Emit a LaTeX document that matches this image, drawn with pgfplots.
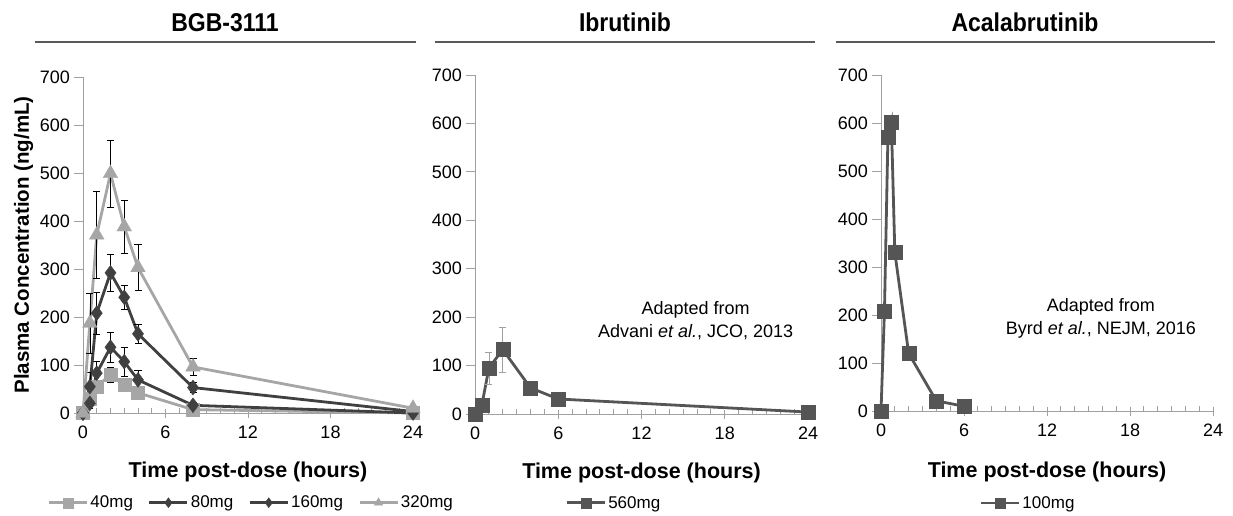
\documentclass[border=0pt]{standalone}
\usepackage{fontspec}
\setmainfont{Liberation Sans}
\usepackage{pgfplots}
\pgfplotsset{compat=1.18}
\definecolor{lg}{HTML}{A6A6A6}
\definecolor{dg}{HTML}{404040}
\definecolor{mg}{HTML}{555555}
\definecolor{axg}{HTML}{A0A0A0}
\pgfplotsset{
  pk/.style={
    scale only axis,
    xmin=0, xmax=24, ymin=0, ymax=700,
    axis lines=left,
    axis line style={-, axg, line width=0.9pt},
    xtick={0,6,12,18,24}, ytick={0,100,...,700},
    minor x tick num=5,
    tick align=center,
    major tick length=9pt,
    minor tick length=5pt,
    minor tick style={yshift=2.5pt},
    ytick style={xshift=-4.5pt},
    tick style={axg, line width=0.8pt},
    clip=false,
    tick label style={font=\fontsize{18}{21}\selectfont},
    /pgf/number format/assume math mode=true,
    xticklabel style={yshift=-5pt},
    yticklabel style={xshift=-5pt},
    xlabel={\bfseries Time post-dose (hours)},
    xlabel style={font=\fontsize{21.5}{24}\selectfont, anchor=base},
    legend style={draw=none, fill=none, font=\fontsize{17}{20}\selectfont, legend columns=-1,
      /tikz/every even column/.append style={column sep=13pt}, anchor=center},
    legend image code/.code={\draw[mark repeat=2,mark phase=2,##1] plot coordinates {(0pt,0pt) (19pt,0pt) (38pt,0pt)};},
    legend image post style={mark size=5pt},
  },
  ebar/.style={error bars/.cd, y dir=both, y explicit,
    error bar style={#1, line width=0.6pt},
    error mark options={rotate=90, mark size=3.5pt, #1, line width=0.6pt}},
}
\begin{document}
\begin{tikzpicture}
\useasboundingbox (0,0) rectangle (1233pt,515pt);
% titles and rules
\node[font=\bfseries\fontsize{23}{26}\selectfont, anchor=base, yscale=1.12] at (225pt,483pt) {BGB-3111};
\node[font=\bfseries\fontsize{23}{26}\selectfont, anchor=base, yscale=1.12] at (625pt,483pt) {Ibrutinib};
\node[font=\bfseries\fontsize{23}{26}\selectfont, anchor=base, yscale=1.12] at (1025pt,483pt) {Acalabrutinib};
\draw[line width=2.8pt, color=black!65] (35pt,473pt) -- (416pt,473pt);
\draw[line width=2.8pt, color=black!65] (435pt,473pt) -- (815pt,473pt);
\draw[line width=2.8pt, color=black!65] (836pt,473pt) -- (1215pt,473pt);

% Panel 1
\begin{axis}[pk, at={(83pt,102pt)}, anchor=south west, width=330pt, height=336pt,
  ylabel={\bfseries Plasma Concentration (ng/mL)},
  ylabel style={font=\fontsize{20.5}{24}\selectfont, at={(axis description cs:-0.18,0.5)}, anchor=center},
  xlabel style={at={(axis description cs:0.5,-0.193)}},
  legend style={at={(axis description cs:0.51,-0.267)}}]
\addplot[color=lg, line width=2.8pt, mark=square*, mark size=6.5pt, mark options={solid, line width=0.3pt}, ebar=black]
 coordinates {(0,0) +- (0,0) (0.5,30) +- (0,8) (1,55) +- (0,12) (2,80) +- (0,15) (3,59) +- (0,12) (4,42) +- (0,8) (8,7) +- (0,3) (24,0) +- (0,0)};
\addlegendentry{40mg}
\addplot[color=dg, line width=2.8pt, mark=diamond*, mark size=7.5pt, mark options={solid, line width=0.3pt}, ebar=black]
 coordinates {(0,0) +- (0,0) (0.5,20) +- (0,10) (1,83) +- (0,25) (2,137) +- (0,31) (3,107) +- (0,30) (4,69) +- (0,20) (8,16) +- (0,6) (24,0) +- (0,0)};
\addlegendentry{80mg}
\addplot[color=dg, line width=2.8pt, mark=diamond*, mark size=7.5pt, mark options={solid, line width=0.3pt}, ebar=black]
 coordinates {(0,0) +- (0,0) (0.5,55) +- (0,30) (1,208) +- (0,44) (2,292) +- (0,38) (3,241) +- (0,25) (4,165) +- (0,20) (8,53) +- (0,10) (24,3) +- (0,2)};
\addlegendentry{160mg}
\addplot[color=lg, line width=2.8pt, mark=triangle*, mark size=8.5pt, mark options={solid, line width=0.3pt}, ebar=black]
 coordinates {(0,0) +- (0,0) (0.5,187) +- (0,62) (1,371) +- (0,90) (2,499) +- (0,70) (3,388) +- (0,55) (4,303) +- (0,48) (8,96) +- (0,18) (24,10) +- (0,3)};
\addlegendentry{320mg}
\end{axis}

% Panel 2
\begin{axis}[pk, at={(475pt,101pt)}, anchor=south west, width=333pt, height=339pt,
  xlabel style={at={(axis description cs:0.5,-0.189)}},
  legend style={at={(axis description cs:0.417,-0.262)}}]
\addplot[color=mg, line width=2.8pt, mark=square*, mark size=7pt, mark options={solid, line width=0.3pt}, ebar=axg]
 coordinates {(0,0) +- (0,0) (0.5,19) +- (0,0) (1,95) +- (0,33) (2,133) +- (0,46) (4,54) +- (0,0) (6,31) +- (0,0) (24,4) +- (0,0)};
\addlegendentry{560mg}
\node[align=center, font=\fontsize{18}{23}\selectfont] at (axis cs:15.9,192) {Adapted from\\Advani \textit{et al.}, JCO, 2013};
\end{axis}

% Panel 3
\begin{axis}[pk, at={(881pt,104pt)}, anchor=south west, width=332pt, height=336pt,
  xlabel style={at={(axis description cs:0.5,-0.199)}},
  legend style={at={(axis description cs:0.443,-0.274)}}]
\addplot[color=mg, line width=2.8pt, mark=square*, mark size=7pt, mark options={solid, line width=0.3pt}]
 coordinates {(0,0) (0.25,209) (0.5,570) (0.75,601) (1,330) (2,120) (4,21) (6,10)};
\addlegendentry{100mg}
\node[align=center, font=\fontsize{18}{23}\selectfont] at (axis cs:15.9,192) {Adapted from\\Byrd \textit{et al.}, NEJM, 2016};
\end{axis}
\end{tikzpicture}
\end{document}
